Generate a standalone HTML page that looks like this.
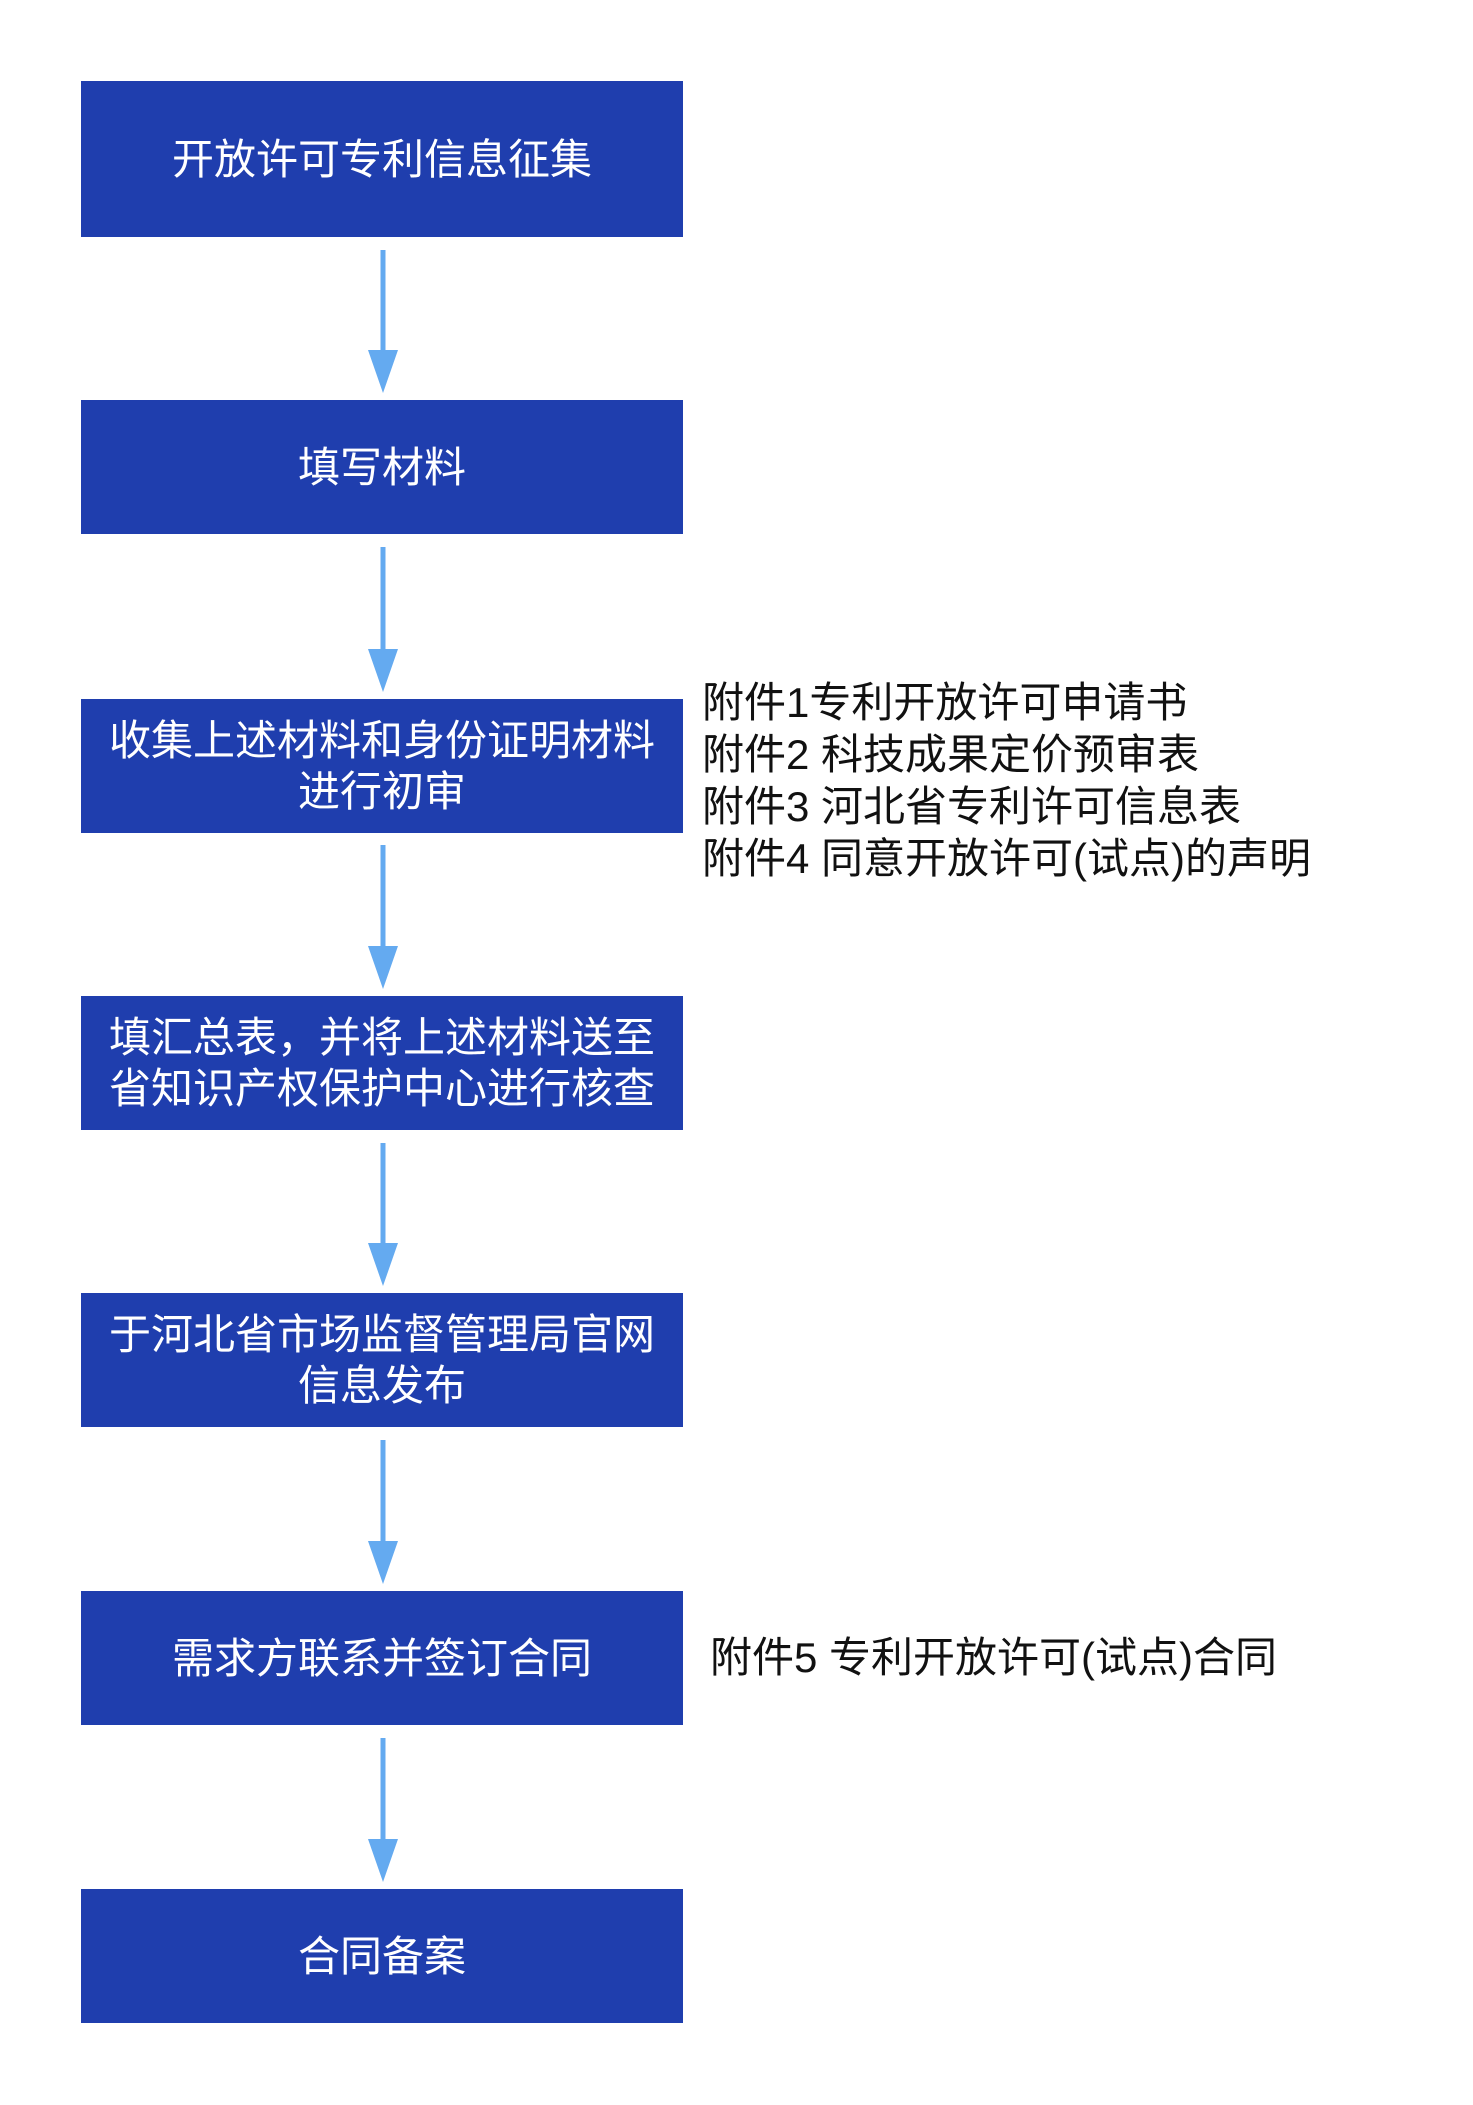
<!DOCTYPE html>
<html><head><meta charset="utf-8"><style>
html,body{margin:0;padding:0;background:#fff;}
body{width:1473px;height:2105px;position:relative;overflow:hidden;font-family:"Liberation Sans","Noto Sans CJK SC",sans-serif;}
.b{position:absolute;left:81px;width:602px;background:#1f3eae;color:#fff;font-size:42px;line-height:51px;display:flex;align-items:center;justify-content:center;text-align:center;}
.a{position:absolute;left:0;top:0;}
.t{position:absolute;color:#111;font-size:42px;line-height:52px;white-space:nowrap;}
</style></head><body>
<div class="b" style="top:81px;height:156px;">开放许可专利信息征集</div>
<div class="b" style="top:400px;height:134px;">填写材料</div>
<div class="b" style="top:699px;height:134px;">收集上述材料和身份证明材料<br>进行初审</div>
<div class="b" style="top:996px;height:134px;">填汇总表，并将上述材料送至<br>省知识产权保护中心进行核查</div>
<div class="b" style="top:1293px;height:134px;">于河北省市场监督管理局官网<br>信息发布</div>
<div class="b" style="top:1591px;height:134px;">需求方联系并签订合同</div>
<div class="b" style="top:1889px;height:134px;">合同备案</div>
<svg class="a" width="1473" height="2105">
<g fill="#64aaf0" stroke="none">
<rect x="380.5" y="250" width="5" height="105"/><polygon points="368,350 398,350 383,393"/>
<rect x="380.5" y="547" width="5" height="105"/><polygon points="368,649 398,649 383,692"/>
<rect x="380.5" y="845" width="5" height="105"/><polygon points="368,946 398,946 383,989"/>
<rect x="380.5" y="1143" width="5" height="105"/><polygon points="368,1243 398,1243 383,1286"/>
<rect x="380.5" y="1440" width="5" height="105"/><polygon points="368,1541 398,1541 383,1584"/>
<rect x="380.5" y="1738" width="5" height="105"/><polygon points="368,1839 398,1839 383,1882"/>
</g></svg>
<div class="t" style="left:702px;top:677px;">附件1专利开放许可申请书<br>附件2 科技成果定价预审表<br>附件3 河北省专利许可信息表<br>附件4 同意开放许可(试点)的声明</div>
<div class="t" style="left:710px;top:1632px;">附件5 专利开放许可(试点)合同</div>
</body></html>
